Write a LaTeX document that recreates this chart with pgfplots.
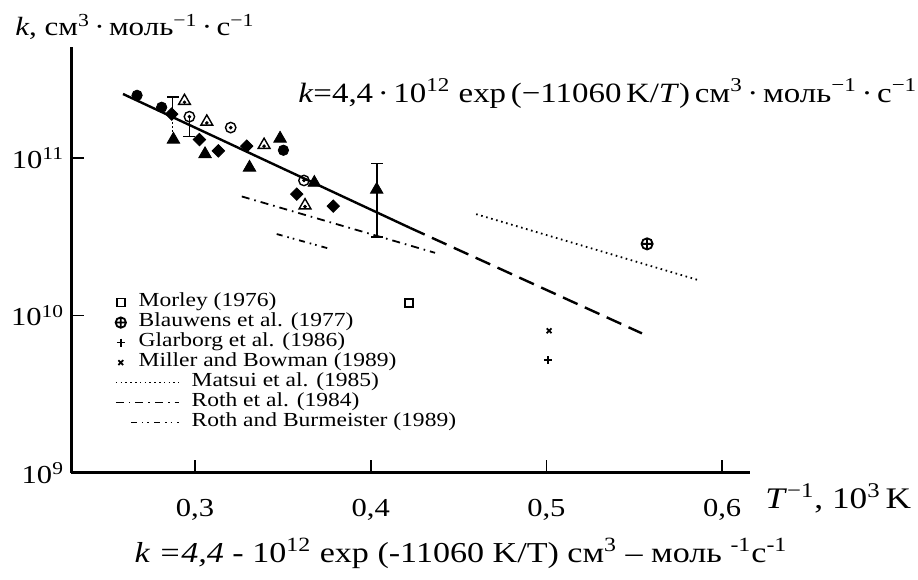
\documentclass[border=0pt]{standalone}
\usepackage{fontspec}
\setmainfont[FakeStretch=1.18]{Liberation Serif}
\usepackage{pgfplots}
\pgfplotsset{compat=1.18}

\pgfplotstableread{
x y
0.2877 1.31e11
0.3057 1.06e11
0.3310 8.7e10
0.3484 1.33e11
0.3679 6.97e10
0.4034 6.3e10
}\filledtri
\pgfplotstableread{
x y
0.2867 1.9e11
0.3025 1.31e11
0.3133 1.11e11
0.3294 1.19e11
0.3579 5.9e10
0.3787 4.95e10
}\filleddia
\pgfplotstableread{
x y
0.2670 2.5e11
0.2810 2.1e11
0.3503 1.12e11
}\filledcirc
\pgfplotstableread{
x y
0.2940 2.3e11
0.3067 1.7e11
0.3393 1.21e11
0.3626 5.0e10
}\opentri
\pgfplotstableread{
x y
0.2968 1.83e11
0.3203 1.56e11
0.3620 7.2e10
}\opencirc

\begin{document}
\begin{tikzpicture}[x=1bp,y=1bp]
\useasboundingbox (0,0) rectangle (459,289.5);
\begin{axis}[
  at={(35.5bp,53bp)}, anchor=south west,
  scale only axis, width=339.5bp, height=213bp,
  xmin=0.2294, xmax=0.6159,
  ymode=log, ymin=1e9, ymax=5.07e11,
  axis lines=left,
  axis line style={line width=1.5bp, -},
  xtick={0.3,0.4,0.5,0.6},
  xticklabels={{0,3},{0,4},{0,5},{0,6}},
  ytick={1e9,1e10,1e11},
  yticklabels={10\textsuperscript{9},10\textsuperscript{10},10\textsuperscript{11}},
  yminorticks=false,
  tick align=inside,
  major tick length=6.5bp,
  tick style={line width=0.8bp, black},
  xticklabel style={font=\fontsize{13}{15}\selectfont, yshift=-9.5bp},
  yticklabel style={font=\fontsize{13}{15}\selectfont},
  clip=false,
  legend cell align=left,
  legend style={draw=none, fill=none, inner sep=0pt, outer sep=0pt,
    at={(0.0648,0.4235)}, anchor=north west, row sep=0pt, column sep=6bp,
    font=\fontsize{10}{10}\selectfont,
    nodes={inner sep=0pt, text height=7bp, text depth=3bp}},
  markleg/.style={legend image code/.code={\draw[##1] plot coordinates {(2.5bp,0bp)};}},
  lineleg/.style={legend image code/.code={\draw[##1] (0bp,0bp) -- (31.5bp,0bp);}},
  shortleg/.style={legend image code/.code={\draw[##1] (7.5bp,0bp) -- (31.5bp,0bp);}},
]
% legend entries
\addlegendimage{only marks, mark=square, mark size=2bp, line width=0.8bp, markleg}
\addlegendentry{\hspace*{-26.5bp}Morley (1976)}
\addlegendimage{only marks, mark=oplus, mark size=2.6bp, line width=0.9bp, markleg}
\addlegendentry{\hspace*{-26.5bp}Blauwens et al. (1977)}
\addlegendimage{only marks, mark=+, mark size=2bp, line width=0.9bp, markleg}
\addlegendentry{\hspace*{-26.5bp}Glarborg et al. (1986)}
\addlegendimage{only marks, mark=x, mark size=1.7bp, line width=0.9bp, markleg}
\addlegendentry{\hspace*{-26.5bp}Miller and Bowman (1989)}
\addlegendimage{line width=0.8bp, dash pattern=on 0.8bp off 1.6bp, lineleg}
\addlegendentry{Matsui et al. (1985)}
\addlegendimage{line width=0.8bp, dash pattern=on 4bp off 2.5bp on 0.8bp off 2.5bp, lineleg}
\addlegendentry{Roth et al. (1984)}
\addlegendimage{line width=0.8bp, dash pattern=on 3bp off 2.5bp on 0.8bp off 2bp on 0.8bp off 2.5bp, shortleg}
\addlegendentry{Roth and Burmeister (1989)}

% fitted line
\addplot[forget plot, black, line width=1.2bp] coordinates {(0.259,2.55e11) (0.4224,3.6e10)};
\addplot[forget plot, black, line width=1.2bp, dash pattern=on 8bp off 4bp] coordinates {(0.4224,3.6e10) (0.5544,7.7e9)};
% Matsui
\addplot[forget plot, black, line width=0.9bp, dash pattern=on 0.8bp off 1.8bp] coordinates {(0.460,4.4e10) (0.5863,1.68e10)};
% Roth 1984
\addplot[forget plot, black, line width=0.9bp, dash pattern=on 4bp off 2.5bp on 0.8bp off 2.5bp] coordinates {(0.3266,5.7e10) (0.4366,2.5e10)};
% Roth and Burmeister
\addplot[forget plot, black, line width=0.9bp, dash pattern=on 3bp off 2.5bp on 0.8bp off 2bp on 0.8bp off 2.5bp] coordinates {(0.3465,3.29e10) (0.3778,2.63e10)};

% error bars
\addplot[forget plot, black, line width=0.8bp] coordinates {(0.2872,2.45e11) (0.2872,1.9e11)};
\addplot[forget plot, black, line width=0.6bp, dash pattern=on 1bp off 1bp] coordinates {(0.2872,1.9e11) (0.2872,1.35e11)};
\addplot[forget plot, only marks, black, mark=-, mark size=3bp, line width=0.8bp] coordinates {(0.2872,2.45e11)};
\addplot[forget plot, black, line width=0.8bp] coordinates {(0.2968,1.83e11) (0.2968,1.37e11)};
\addplot[forget plot, only marks, black, mark=-, mark size=3bp, line width=0.8bp] coordinates {(0.2968,1.37e11)};
\addplot[forget plot, black, line width=0.8bp, mark=-, mark size=3bp] coordinates {(0.4034,3.15e10) (0.4034,9.25e10)};

% data sets
\addplot[forget plot, only marks, mark=triangle*, mark size=3.6bp, black] table {\filledtri};
\addplot[forget plot, only marks, mark=square*, mark size=2.2bp, mark options={rotate=45}, black] table {\filleddia};
\addplot[forget plot, only marks, mark=*, mark size=2.6bp, black] table {\filledcirc};
\addplot[forget plot, only marks, mark=triangle, mark size=3.4bp, line width=0.7bp, black] table {\opentri};
\addplot[forget plot, only marks, mark=*, mark size=0.7bp, black, yshift=-0.6bp] table {\opentri};
\addplot[forget plot, only marks, mark=o, mark size=2.6bp, line width=0.7bp, black] table {\opencirc};
\addplot[forget plot, only marks, mark=*, mark size=0.7bp, black] table {\opencirc};

\addplot[forget plot, only marks, mark=square, mark size=2bp, line width=0.8bp, black] coordinates {(0.4218,1.2e10)};
\addplot[forget plot, only marks, mark=oplus, mark size=2.8bp, line width=0.9bp, black] coordinates {(0.5573,2.85e10)};
\addplot[forget plot, only marks, mark=+, mark size=2bp, line width=0.9bp, black] coordinates {(0.5009,5.2e9)};
\addplot[forget plot, only marks, mark=x, mark size=1.7bp, line width=0.9bp, black] coordinates {(0.5015,8.0e9)};
\end{axis}

\node[anchor=base west, inner sep=0pt, font=\fontsize{13.2}{15}\selectfont] at (7.5,272)
  {\textit{k}, см\textsuperscript{3}\,·\,моль\textsuperscript{−1}\,·\,с\textsuperscript{−1}};
\node[anchor=base west, inner sep=0pt, font=\fontsize{14}{16}\selectfont] at (149,238.5)
  {\textit{k}=4,4\,·\,10\textsuperscript{12} exp\,(−11060\,K/\textit{T})\,см\textsuperscript{3}\,·\,моль\textsuperscript{−1}\,·\,с\textsuperscript{−1}};
\node[anchor=base west, inner sep=0pt, font=\fontsize{15}{17}\selectfont] at (382.5,35.5)
  {\textit{T}\textsuperscript{−1}, 10\textsuperscript{3}\,K};
\node[anchor=base, inner sep=0pt, font=\fontsize{14.5}{16}\selectfont] at (230.5,8.5)
  {\textit{k =4,4} - 10\textsuperscript{12} exp (-11060 K/T) см\textsuperscript{3} – моль \textsuperscript{-1}с\textsuperscript{-1}};
\end{tikzpicture}
\end{document}
